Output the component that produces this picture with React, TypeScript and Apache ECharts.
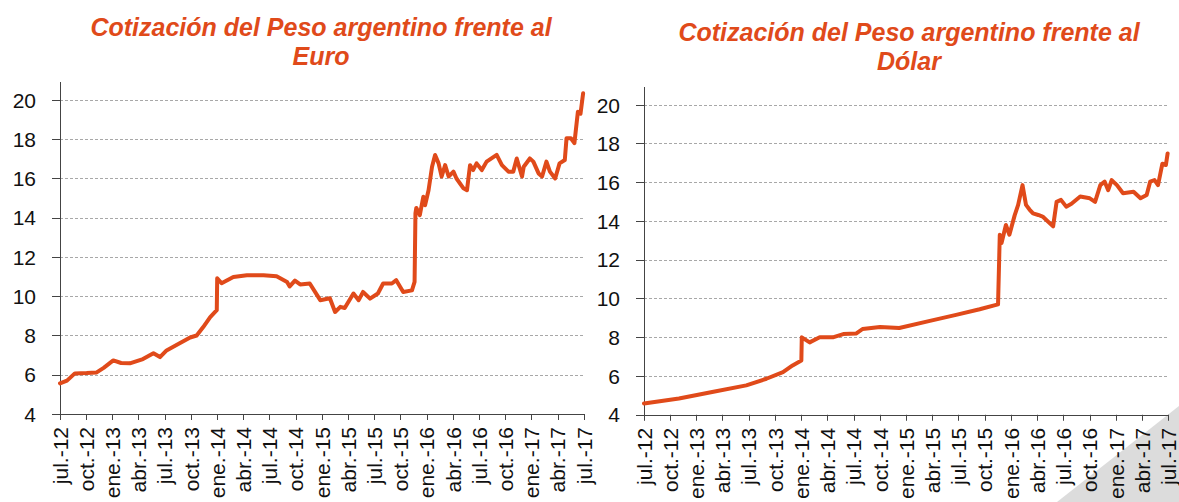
import React, { useEffect, useRef } from "react";
import * as echarts from "echarts";

const quarterLabels = [
  "jul.-12", "oct.-12", "ene.-13", "abr.-13", "jul.-13", "oct.-13", "ene.-14",
  "abr.-14", "jul.-14", "oct.-14", "ene.-15", "abr.-15", "jul.-15", "oct.-15",
  "ene.-16", "abr.-16", "jul.-16", "oct.-16", "ene.-17", "abr.-17", "jul.-17",
];

// months elapsed since jul.-12
const euroMonths = [
  0, 0.8, 1.7, 3.05, 4.2, 5.0, 6.1, 7.0, 8.0, 9.5, 10.7, 11.45, 12.2, 13.7, 14.9,
  15.65, 16.4, 17.2, 17.95, 18.0, 18.5, 19.85, 21.4, 23.3, 24.8, 26.0, 26.3, 26.9,
  27.5, 28.6, 29.8, 30.9, 31.5, 32.1, 32.6, 33.6, 34.2, 34.7, 35.5, 36.4, 37.0,
  38.0, 38.5, 39.3, 40.3, 40.6, 40.7, 40.8, 41.2, 41.6, 41.8, 42.2, 42.6, 42.95,
  43.35, 43.7, 44.1, 44.5, 45.05, 45.4, 46.2, 46.6, 46.95, 47.3, 47.7, 48.3, 48.85,
  50.0, 50.6, 51.35, 51.9, 52.3, 52.9, 53.1, 53.8, 54.2, 54.8, 55.2, 55.7, 56.1,
  56.7, 57.2, 57.8, 58.0, 58.5, 58.9, 59.3, 59.6, 59.9,
];
const euroValues = [
  5.56, 5.7, 6.07, 6.09, 6.12, 6.35, 6.73, 6.6, 6.58, 6.8, 7.1, 6.9, 7.24, 7.6, 7.9,
  8.0, 8.43, 8.94, 9.29, 10.92, 10.66, 10.98, 11.07, 11.07, 11.02, 10.73, 10.5, 10.8,
  10.6, 10.65, 9.8, 9.9, 9.2, 9.46, 9.4, 10.14, 9.8, 10.22, 9.88, 10.14, 10.65,
  10.65, 10.82, 10.22, 10.3, 10.73, 14.22, 14.5, 14.13, 15.07, 14.64, 15.4, 16.6, 17.2,
  16.77, 16.1, 16.68, 16.1, 16.35, 16.0, 15.5, 15.4, 16.68, 16.43, 16.77, 16.43, 16.86,
  17.2, 16.68, 16.35, 16.35, 17.02, 16.1, 16.6, 17.02, 16.86, 16.26, 16.1, 16.86, 16.35,
  16.0, 16.77, 16.94, 18.05, 18.05, 17.8, 19.4, 19.3, 20.34,
];

const dolarMonths = [
  0, 4.0, 7.8, 11.7, 14.0, 15.9, 17.0, 18.0, 18.05, 18.95, 20.1, 21.6, 22.8, 24.3,
  25.0, 27.0, 29.2, 32.7, 35.7, 38.4, 40.5, 40.7, 40.9, 41.4, 41.8, 42.4, 42.8, 43.3,
  43.7, 44.1, 44.5, 45.1, 45.6, 46.8, 47.2, 47.7, 48.3, 48.9, 49.9, 51.0, 51.6, 52.2,
  52.7, 53.1, 53.5, 54.1, 54.8, 56.0, 56.8, 57.5, 57.9, 58.4, 58.8, 59.3, 59.7, 59.9,
];
const dolarValues = [
  4.58, 4.84, 5.18, 5.52, 5.86, 6.2, 6.55, 6.8, 8.0, 7.74, 8.0, 8.0, 8.17, 8.2,
  8.43, 8.53, 8.48, 8.85, 9.16, 9.45, 9.7, 13.3, 12.87, 13.8, 13.3, 14.3, 14.84, 15.86,
  14.84, 14.6, 14.4, 14.32, 14.24, 13.73, 15.0, 15.1, 14.75, 14.9, 15.27, 15.18, 15.0, 15.86,
  16.04, 15.6, 16.12, 15.86, 15.44, 15.52, 15.18, 15.35, 16.04, 16.12, 15.86, 16.97, 16.9, 17.5,
];

const titles = [
  "Cotización del Peso argentino frente al\nEuro",
  "Cotización del Peso argentino frente al\nDólar",
];

const ORANGE = "#E04A1A";
const FONT = "'Liberation Sans', Arial, sans-serif";

export default function App() {
  const ref = useRef<HTMLDivElement>(null);
  useEffect(() => {
    if (!ref.current) return;
    const chart = echarts.init(ref.current, null, { renderer: "svg" });
    const grids = [
      { left: 60, top: 100, width: 524, height: 314 },
      { left: 644, top: 105, width: 525, height: 313 },
    ];
    const mkX = (i: number) => ({
      type: "value",
      gridIndex: i,
      min: 0,
      max: 60,
      interval: 3,
      axisLine: { show: true, lineStyle: { color: "#444", width: 1 } },
      axisTick: { show: true, length: 6, lineStyle: { color: "#444" } },
      splitLine: { show: false },
      axisLabel: {
        rotate: 90,
        margin: 13,
        fontSize: 21,
        color: "#111",
        fontFamily: FONT,
        formatter: (v: number) => quarterLabels[Math.round(v / 3)] ?? "",
      },
    });
    const mkY = (i: number) => ({
      type: "value",
      gridIndex: i,
      min: 4,
      max: 20,
      interval: 2,
      axisLine: { show: true, lineStyle: { color: "#444", width: 1 } },
      axisTick: { show: true, length: 8, lineStyle: { color: "#444" } },
      splitLine: { show: true, lineStyle: { color: "#a8a8a8", type: [3, 2], width: 1 } },
      axisLabel: { margin: 24, fontSize: 21, color: "#111", fontFamily: FONT },
    });
    const mkSeries = (i: number, xs: number[], ys: number[]) => ({
      type: "line",
      xAxisIndex: i,
      yAxisIndex: i,
      data: xs.map((x, k) => [x, ys[k]]),
      showSymbol: false,
      clip: false,
      lineStyle: { color: ORANGE, width: 4, join: "round", cap: "round" },
      itemStyle: { color: ORANGE },
    });
    const titleStyle = {
      color: ORANGE, fontSize: 25, fontWeight: "bold", fontStyle: "italic", fontFamily: FONT, lineHeight: 29,
    };
    chart.setOption({
      animation: false,
      backgroundColor: "#fff",
      title: [
        { text: titles[0], left: 316, top: 7, textAlign: "center", textStyle: titleStyle },
        { text: titles[1], left: 904, top: 12, textAlign: "center", textStyle: titleStyle },
      ],
      grid: grids,
      xAxis: [mkX(0), mkX(1)],
      yAxis: [mkY(0), mkY(1)],
      series: [mkSeries(0, euroMonths, euroValues), mkSeries(1, dolarMonths, dolarValues)],
      graphic: [
        {
          type: "polygon",
          z: -10,
          silent: true,
          shape: { points: [[1057, 502], [1179, 406], [1179, 502]] },
          style: { fill: "#dcdcdc" },
        },
        {
          type: "line",
          silent: true,
          shape: { x1: 60.5, y1: 82, x2: 60.5, y2: 100 },
          style: { stroke: "#444", lineWidth: 1 },
        },
        {
          type: "line",
          silent: true,
          shape: { x1: 644.5, y1: 87, x2: 644.5, y2: 105 },
          style: { stroke: "#444", lineWidth: 1 },
        },
      ],
    });
    return () => chart.dispose();
  }, []);
  return (
    <div
      ref={ref}
      style={{ position: "fixed", left: 0, top: 0, width: 1179, height: 502 }}
    />
  );
}
